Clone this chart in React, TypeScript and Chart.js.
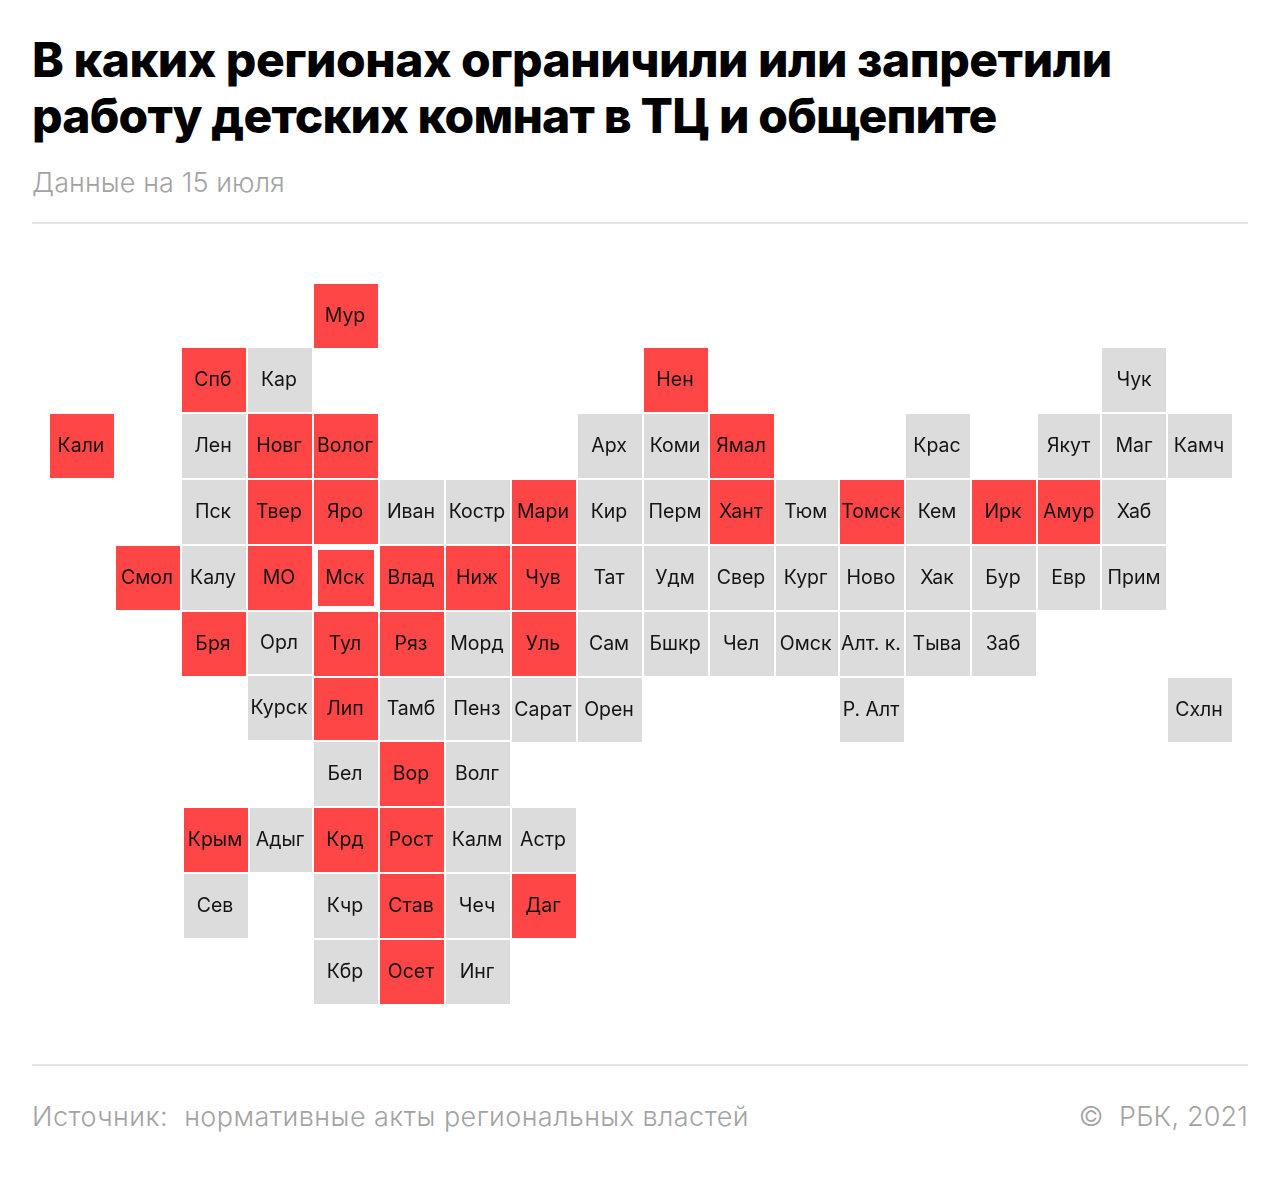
import { useEffect, useRef } from 'react';
import { Chart, registerables } from 'chart.js';

Chart.register(...registerables);

// Grid lines of the tile map; a few columns and rows sit slightly off the even pitch
const colLevels = [0, 1, 2, 3, 4, 5, 6, 7, 8, 9, 10, 10.98, 11.97, 12.97, 13.97, 14.95, 15.94, 16.94];
const rowLevels = [0.03, 1, 2, 3, 4, 5, 6, 6.97, 7.97, 8.97, 9.97];

const regions = [
  'Мур',
  'Спб', 'Кар', 'Нен', 'Чук',
  'Кали', 'Лен', 'Новг', 'Волог', 'Арх', 'Коми', 'Ямал', 'Крас', 'Якут', 'Маг', 'Камч',
  'Пск', 'Твер', 'Яро', 'Иван', 'Костр', 'Мари', 'Кир', 'Перм', 'Хант', 'Тюм', 'Томск', 'Кем', 'Ирк', 'Амур', 'Хаб',
  'Смол', 'Калу', 'МО', 'Мск', 'Влад', 'Ниж', 'Чув', 'Тат', 'Удм', 'Свер', 'Кург', 'Ново', 'Хак', 'Бур', 'Евр', 'Прим',
  'Бря', 'Орл', 'Тул', 'Ряз', 'Морд', 'Уль', 'Сам', 'Бшкр', 'Чел', 'Омск', 'Алт. к.', 'Тыва', 'Заб',
  'Курск', 'Лип', 'Тамб', 'Пенз', 'Сарат', 'Орен', 'Р. Алт', 'Схлн',
  'Бел', 'Вор', 'Волг',
  'Крым', 'Адыг', 'Крд', 'Рост', 'Калм', 'Астр',
  'Сев', 'Кчр', 'Став', 'Чеч', 'Даг',
  'Кбр', 'Осет', 'Инг',
];
const cols = [
  4,
  2, 3, 9, 16,
  0, 2, 3, 4, 8, 9, 10, 13, 15, 16, 17,
  2, 3, 4, 5, 6, 7, 8, 9, 10, 11, 12, 13, 14, 15, 16,
  1, 2, 3, 4, 5, 6, 7, 8, 9, 10, 11, 12, 13, 14, 15, 16,
  2, 3, 4, 5, 6, 7, 8, 9, 10, 11, 12, 13, 14,
  3, 4, 5, 6, 7, 8, 12, 17,
  4, 5, 6,
  2, 3, 4, 5, 6, 7,
  2, 4, 5, 6, 7,
  4, 5, 6,
];
const rows = [
  0,
  1, 1, 1, 1,
  2, 2, 2, 2, 2, 2, 2, 2, 2, 2, 2,
  3, 3, 3, 3, 3, 3, 3, 3, 3, 3, 3, 3, 3, 3, 3,
  4, 4, 4, 4, 4, 4, 4, 4, 4, 4, 4, 4, 4, 4, 4, 4,
  5, 5, 5, 5, 5, 5, 5, 5, 5, 5, 5, 5, 5,
  6, 6, 6, 6, 6, 6, 6, 6,
  7, 7, 7,
  8, 8, 8, 8, 8, 8,
  9, 9, 9, 9, 9,
  10, 10, 10,
];
const restricted = [
  'Мур', 'Спб', 'Нен', 'Кали', 'Новг', 'Волог', 'Ямал', 'Твер', 'Яро', 'Мари', 'Хант', 'Томск', 'Ирк', 'Амур',
  'Смол', 'МО', 'Мск', 'Влад', 'Ниж', 'Чув', 'Бря', 'Тул', 'Ряз', 'Уль', 'Лип', 'Вор', 'Крым', 'Крд', 'Рост',
  'Став', 'Даг', 'Осет',
];

const RED = '#ff4646';
const GREY = '#dcdcdc';
const PITCH = 66;
const TILE = 64;
const WIDTH = 1280;
const TOP = 240;
const HEIGHT = 800;

// Tiles that are drawn a little off the regular size in the original
const tileTweaks: Record<string, { dx?: number; dy?: number; w?: number; h?: number }> = {
  Мск: { w: 56, h: 56 },
  Орл: { dy: -1, h: 62 },
  Курск: { dy: -2 },
  Лип: { dy: -1, h: 62 },
  Тамб: { dy: -1, h: 62 },
  Пенз: { dy: -1, h: 62 },
  Крым: { dx: 2 },
  Сев: { dx: 2 },
  Адыг: { dx: 1, w: 62 },
  Тюм: { w: 62 },
  Кург: { w: 62 },
  Омск: { w: 62 },
  Амур: { w: 62 },
  Якут: { w: 62 },
  Евр: { w: 62 },
};

type Tile = { x: number; y: number; name: string; col: number };

const points = (red: boolean): Tile[] =>
  regions
    .map((name, i) => {
      const t = tileTweaks[name] || {};
      return {
        name,
        col: cols[i],
        x: colLevels[cols[i]] + (t.dx || 0) / PITCH,
        y: rowLevels[rows[i]] + (t.dy || 0) / PITCH,
      };
    })
    .filter((p) => restricted.includes(p.name) === red);

const tileImage = (name: string, color: string) => {
  const t = tileTweaks[name] || {};
  const c = document.createElement('canvas');
  c.width = t.w || TILE;
  c.height = t.h || TILE;
  const g = c.getContext('2d')!;
  g.fillStyle = color;
  g.fillRect(0, 0, c.width, c.height);
  return c;
};

const tileLabels = {
  id: 'tileLabels',
  afterDatasetsDraw(chart: Chart) {
    const { ctx } = chart;
    ctx.save();
    ctx.font = '400 19.5px Inter';
    ctx.fillStyle = '#141414';
    ctx.textAlign = 'center';
    ctx.textBaseline = 'middle';
    chart.data.datasets.forEach((ds, d) => {
      chart.getDatasetMeta(d).data.forEach((el, i) => {
        const tile = ds.data[i] as unknown as Tile;
        // labels in the original sit a touch left of centre, except the two far-east columns
        const shift = tile.col === 15 || tile.col === 16 ? 0 : -1;
        ctx.fillText(tile.name, el.x + shift, el.y);
      });
    });
    ctx.restore();
  },
};

const textStyle = { position: 'absolute', margin: 0, whiteSpace: 'nowrap' } as const;
const ruleStyle = { position: 'absolute', left: 32, width: 1216, height: 2, background: '#e4e4e4' } as const;

export default function App() {
  const canvasRef = useRef<HTMLCanvasElement>(null);

  useEffect(() => {
    if (!canvasRef.current) return;
    const chart = new Chart(canvasRef.current, {
      type: 'scatter',
      data: {
        datasets: [
          {
            label: 'Ограничили или запретили',
            data: points(true),
            pointStyle: (ctx: any) => tileImage(ctx.raw?.name, RED),
          },
          {
            label: 'Без ограничений',
            data: points(false),
            pointStyle: (ctx: any) => tileImage(ctx.raw?.name, GREY),
          },
        ],
      },
      options: {
        animation: false,
        responsive: false,
        devicePixelRatio: 1,
        layout: { padding: 0, autoPadding: false },
        plugins: { legend: { display: false }, tooltip: { enabled: false } },
        scales: {
          x: { type: 'linear', display: false, min: -82 / PITCH, max: (WIDTH - 82) / PITCH },
          y: { type: 'linear', display: false, reverse: true, min: (TOP - 314) / PITCH, max: (TOP + HEIGHT - 314) / PITCH },
        },
      },
      plugins: [tileLabels],
    });
    return () => chart.destroy();
  }, []);

  return (
    <div style={{ position: 'absolute', left: 0, top: 0, width: WIDTH, height: 1178, background: '#fff', fontFamily: 'Inter' }}>
      <h1 style={{ ...textStyle, left: 32, top: 32, fontSize: 48, lineHeight: '56px', fontWeight: 800, letterSpacing: -0.5, color: '#000' }}>
        В каких регионах ограничили или запретили
        <br />
        <span style={{ letterSpacing: -0.8 }}>работу детских комнат в ТЦ и общепите</span>
      </h1>
      <div style={{ ...textStyle, left: 32, top: 166, fontSize: 27, lineHeight: '34px', fontWeight: 300, letterSpacing: 0.1, color: '#a3a3a3' }}>
        Данные на 15 июля
      </div>
      <div style={{ ...ruleStyle, top: 222 }} />
      <canvas ref={canvasRef} width={WIDTH} height={HEIGHT} style={{ position: 'absolute', left: 0, top: TOP }} />
      <div style={{ ...ruleStyle, top: 1064 }} />
      <div style={{ ...textStyle, left: 32, top: 1100, fontSize: 27, lineHeight: '34px', fontWeight: 300, letterSpacing: 0.45, color: '#a3a3a3' }}>
        Источник:&nbsp; нормативные акты региональных властей
      </div>
      <div style={{ ...textStyle, right: 32, top: 1100, fontSize: 27, lineHeight: '34px', fontWeight: 300, letterSpacing: 0.15, color: '#a3a3a3' }}>
        ©&nbsp; РБК, 2021
      </div>
    </div>
  );
}
